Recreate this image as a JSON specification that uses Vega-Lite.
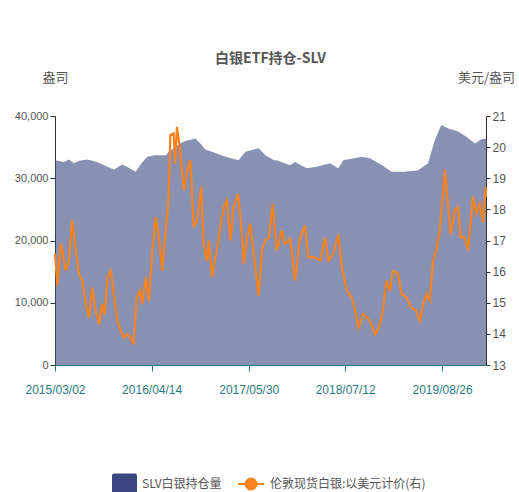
{
  "$schema": "https://vega.github.io/schema/vega-lite/v6.json",
  "width": 431,
  "height": 249,
  "autosize": {"type": "none"},
  "padding": {"left": 55, "top": 116, "right": 33, "bottom": 127},
  "background": "white",
  "config": {"view": {"stroke": null}},
  "title": {
    "text": "白银ETF持仓-SLV",
    "font": "Noto Sans CJK SC",
    "fontSize": 14,
    "fontWeight": "bold",
    "color": "#555555",
    "anchor": "middle",
    "frame": "group",
    "offset": 5
  },
  "datasets": {
    "holdings": [
      {"date": "2015-03-02", "holdings": 32900},
      {"date": "2015-04-09", "holdings": 32600},
      {"date": "2015-04-30", "holdings": 33000},
      {"date": "2015-05-21", "holdings": 32400},
      {"date": "2015-06-12", "holdings": 32800},
      {"date": "2015-07-17", "holdings": 33000},
      {"date": "2015-08-28", "holdings": 32600},
      {"date": "2015-10-10", "holdings": 31850},
      {"date": "2015-11-07", "holdings": 31400},
      {"date": "2015-12-12", "holdings": 32200},
      {"date": "2016-01-02", "holdings": 31800},
      {"date": "2016-02-06", "holdings": 31050},
      {"date": "2016-03-06", "holdings": 32600},
      {"date": "2016-03-27", "holdings": 33450},
      {"date": "2016-04-24", "holdings": 33700},
      {"date": "2016-06-14", "holdings": 33700},
      {"date": "2016-06-25", "holdings": 34250},
      {"date": "2016-08-13", "holdings": 35600},
      {"date": "2016-09-04", "holdings": 36000},
      {"date": "2016-10-16", "holdings": 36400},
      {"date": "2016-11-06", "holdings": 35600},
      {"date": "2016-11-27", "holdings": 34600},
      {"date": "2017-01-09", "holdings": 34050},
      {"date": "2017-02-20", "holdings": 33450},
      {"date": "2017-04-17", "holdings": 32900},
      {"date": "2017-05-16", "holdings": 34250},
      {"date": "2017-07-11", "holdings": 34800},
      {"date": "2017-08-08", "holdings": 33700},
      {"date": "2017-09-14", "holdings": 32900},
      {"date": "2017-09-25", "holdings": 32900},
      {"date": "2017-11-21", "holdings": 32100},
      {"date": "2017-12-12", "holdings": 32600},
      {"date": "2018-01-30", "holdings": 31600},
      {"date": "2018-03-14", "holdings": 31850},
      {"date": "2018-05-09", "holdings": 32400},
      {"date": "2018-06-13", "holdings": 31600},
      {"date": "2018-07-04", "holdings": 32900},
      {"date": "2018-09-20", "holdings": 33450},
      {"date": "2018-10-25", "holdings": 33200},
      {"date": "2018-12-15", "holdings": 32100},
      {"date": "2019-01-24", "holdings": 31050},
      {"date": "2019-03-21", "holdings": 31050},
      {"date": "2019-05-17", "holdings": 31300},
      {"date": "2019-06-28", "holdings": 32400},
      {"date": "2019-07-26", "holdings": 36100},
      {"date": "2019-08-23", "holdings": 38550},
      {"date": "2019-09-21", "holdings": 38000},
      {"date": "2019-11-02", "holdings": 37500},
      {"date": "2019-12-07", "holdings": 36650},
      {"date": "2020-01-12", "holdings": 35600},
      {"date": "2020-02-09", "holdings": 36250},
      {"date": "2020-02-28", "holdings": 36400}
    ],
    "price": [
      {"date": "2015-03-02", "price": 16.57},
      {"date": "2015-03-12", "price": 15.55},
      {"date": "2015-03-26", "price": 16.9},
      {"date": "2015-04-02", "price": 16.68},
      {"date": "2015-04-16", "price": 16.03},
      {"date": "2015-04-30", "price": 16.35},
      {"date": "2015-05-14", "price": 17.65},
      {"date": "2015-05-29", "price": 16.68},
      {"date": "2015-06-12", "price": 15.93},
      {"date": "2015-06-26", "price": 15.71},
      {"date": "2015-07-10", "price": 14.96},
      {"date": "2015-07-24", "price": 14.53},
      {"date": "2015-08-07", "price": 15.49},
      {"date": "2015-08-21", "price": 14.74},
      {"date": "2015-09-04", "price": 14.31},
      {"date": "2015-09-18", "price": 14.96},
      {"date": "2015-09-28", "price": 14.6},
      {"date": "2015-10-10", "price": 15.82},
      {"date": "2015-10-24", "price": 16.03},
      {"date": "2015-11-07", "price": 15.17},
      {"date": "2015-11-21", "price": 14.42},
      {"date": "2015-12-05", "price": 14.1},
      {"date": "2015-12-19", "price": 13.88},
      {"date": "2016-01-02", "price": 13.99},
      {"date": "2016-01-16", "price": 13.88},
      {"date": "2016-01-28", "price": 13.67},
      {"date": "2016-02-11", "price": 15.17},
      {"date": "2016-02-25", "price": 15.39},
      {"date": "2016-03-06", "price": 14.96},
      {"date": "2016-03-20", "price": 15.82},
      {"date": "2016-04-03", "price": 15.06},
      {"date": "2016-04-17", "price": 16.68},
      {"date": "2016-05-01", "price": 17.75},
      {"date": "2016-05-15", "price": 17.1},
      {"date": "2016-05-29", "price": 16.03},
      {"date": "2016-06-11", "price": 17.2},
      {"date": "2016-06-25", "price": 18.4},
      {"date": "2016-07-02", "price": 20.39},
      {"date": "2016-07-16", "price": 20.44},
      {"date": "2016-07-23", "price": 19.47},
      {"date": "2016-07-30", "price": 20.65},
      {"date": "2016-08-13", "price": 19.9},
      {"date": "2016-08-28", "price": 18.61},
      {"date": "2016-09-11", "price": 19.26},
      {"date": "2016-09-25", "price": 19.58},
      {"date": "2016-10-09", "price": 17.43},
      {"date": "2016-10-23", "price": 17.65},
      {"date": "2016-11-10", "price": 18.72},
      {"date": "2016-11-20", "price": 16.89},
      {"date": "2016-12-04", "price": 16.35},
      {"date": "2016-12-12", "price": 17.0},
      {"date": "2016-12-26", "price": 15.82},
      {"date": "2017-01-09", "price": 16.46},
      {"date": "2017-01-23", "price": 17.1},
      {"date": "2017-02-13", "price": 18.07},
      {"date": "2017-02-27", "price": 18.29},
      {"date": "2017-03-13", "price": 17.0},
      {"date": "2017-03-27", "price": 18.07},
      {"date": "2017-04-15", "price": 18.5},
      {"date": "2017-05-02", "price": 17.1},
      {"date": "2017-05-09", "price": 16.25},
      {"date": "2017-05-23", "price": 17.1},
      {"date": "2017-06-06", "price": 17.54},
      {"date": "2017-06-20", "price": 16.57},
      {"date": "2017-07-11", "price": 15.23},
      {"date": "2017-07-25", "price": 16.68},
      {"date": "2017-08-08", "price": 17.0},
      {"date": "2017-08-23", "price": 17.1},
      {"date": "2017-09-08", "price": 18.18},
      {"date": "2017-09-25", "price": 16.68},
      {"date": "2017-10-17", "price": 17.32},
      {"date": "2017-10-31", "price": 16.89},
      {"date": "2017-11-21", "price": 17.05},
      {"date": "2017-12-12", "price": 15.71},
      {"date": "2018-01-02", "price": 17.1},
      {"date": "2018-01-23", "price": 17.48},
      {"date": "2018-02-06", "price": 16.46},
      {"date": "2018-03-07", "price": 16.46},
      {"date": "2018-03-28", "price": 16.35},
      {"date": "2018-04-18", "price": 17.1},
      {"date": "2018-05-02", "price": 16.35},
      {"date": "2018-05-23", "price": 16.57},
      {"date": "2018-06-13", "price": 17.2},
      {"date": "2018-06-28", "price": 16.14},
      {"date": "2018-07-19", "price": 15.39},
      {"date": "2018-08-09", "price": 15.17},
      {"date": "2018-08-23", "price": 14.74},
      {"date": "2018-09-06", "price": 14.2},
      {"date": "2018-09-27", "price": 14.64},
      {"date": "2018-10-25", "price": 14.42},
      {"date": "2018-11-16", "price": 13.99},
      {"date": "2018-12-02", "price": 14.2},
      {"date": "2018-12-19", "price": 14.74},
      {"date": "2019-01-03", "price": 15.71},
      {"date": "2019-01-17", "price": 15.39},
      {"date": "2019-01-31", "price": 16.03},
      {"date": "2019-02-21", "price": 15.93},
      {"date": "2019-03-07", "price": 15.28},
      {"date": "2019-03-28", "price": 15.17},
      {"date": "2019-04-18", "price": 14.85},
      {"date": "2019-05-09", "price": 14.74},
      {"date": "2019-05-24", "price": 14.42},
      {"date": "2019-06-07", "price": 14.96},
      {"date": "2019-06-21", "price": 15.28},
      {"date": "2019-07-05", "price": 15.06},
      {"date": "2019-07-19", "price": 16.35},
      {"date": "2019-08-02", "price": 16.68},
      {"date": "2019-08-16", "price": 17.32},
      {"date": "2019-08-30", "price": 18.5},
      {"date": "2019-09-07", "price": 19.26},
      {"date": "2019-09-21", "price": 18.07},
      {"date": "2019-10-02", "price": 17.2},
      {"date": "2019-10-19", "price": 17.97},
      {"date": "2019-11-02", "price": 18.07},
      {"date": "2019-11-13", "price": 17.1},
      {"date": "2019-11-30", "price": 17.1},
      {"date": "2019-12-14", "price": 16.68},
      {"date": "2020-01-04", "price": 18.4},
      {"date": "2020-01-18", "price": 17.86},
      {"date": "2020-02-02", "price": 18.18},
      {"date": "2020-02-16", "price": 17.59},
      {"date": "2020-02-26", "price": 18.72},
      {"date": "2020-02-28", "price": 18.4}
    ]
  },
  "layer": [
    {
      "data": {"name": "holdings"},
      "mark": {"type": "area", "fillOpacity": 0.6, "interpolate": "linear"},
      "encoding": {
        "x": {
          "field": "date",
          "type": "temporal",
          "scale": {
            "type": "utc",
            "domain": [
              {"year": 2015, "month": 3, "date": 2, "utc": true},
              {"year": 2020, "month": 2, "date": 28, "utc": true}
            ]
          },
          "axis": {
            "values": [
              {"year": 2015, "month": 3, "date": 2, "utc": true},
              {"year": 2016, "month": 4, "date": 14, "utc": true},
              {"year": 2017, "month": 5, "date": 30, "utc": true},
              {"year": 2018, "month": 7, "date": 12, "utc": true},
              {"year": 2019, "month": 8, "date": 26, "utc": true}
            ],
            "labelExpr": "utcFormat(datum.value, '%Y/%m/%d')",
            "labelColor": "#2c7a83",
            "labelFont": "Liberation Sans",
            "labelFontSize": 12,
            "labelFlush": false,
            "labelOverlap": false,
            "labelPadding": 13,
            "tickColor": "#2c7a83",
            "tickSize": 6,
            "domainColor": "#2c7a83",
            "grid": false,
            "title": null
          }
        },
        "y": {
          "field": "holdings",
          "type": "quantitative",
          "scale": {"domain": [0, 40000]},
          "axis": {
            "values": [0, 10000, 20000, 30000, 40000],
            "labelExpr": "format(datum.value, ',')",
            "labelColor": "#555555",
            "labelFont": "Liberation Sans",
            "labelFontSize": 11,
            "labelPadding": 2,
            "tickSize": 5,
            "tickColor": "#333333",
            "domainColor": "#333333",
            "grid": false,
            "title": "盎司",
            "titleAngle": 0,
            "titleX": 0,
            "titleY": -39,
            "titleAlign": "center",
            "titleBaseline": "middle",
            "titleFont": "Noto Sans CJK SC",
            "titleFontSize": 13,
            "titleFontWeight": "normal",
            "titleColor": "#555555"
          }
        },
        "fill": {
          "datum": "SLV白银持仓量",
          "type": "nominal",
          "scale": {"range": ["#3a4780"]},
          "legend": {
            "orient": "none",
            "legendX": 57,
            "legendY": 355,
            "title": null,
            "padding": 0,
            "symbolType": "M-0.85,-0.8H0.85Q1,-0.8 1,-0.65V0.65Q1,0.8 0.85,0.8H-0.85Q-1,0.8 -1,0.65V-0.65Q-1,-0.8 -0.85,-0.8Z",
            "symbolSize": 625,
            "symbolOpacity": 1,
            "symbolStrokeWidth": 0,
            "labelFont": "Noto Sans CJK SC",
            "labelFontSize": 12,
            "labelColor": "#555555",
            "labelOffset": 5
          }
        }
      }
    },
    {
      "data": {"name": "price"},
      "mark": {"type": "line", "strokeWidth": 2.2, "interpolate": "linear"},
      "encoding": {
        "x": {"field": "date", "type": "temporal"},
        "y": {
          "field": "price",
          "type": "quantitative",
          "scale": {"domain": [13, 21], "zero": false},
          "axis": {
            "orient": "right",
            "values": [13, 14, 15, 16, 17, 18, 19, 20, 21],
            "labelColor": "#555555",
            "labelFont": "Liberation Sans",
            "labelFontSize": 12,
            "labelPadding": 2,
            "tickSize": 4,
            "tickColor": "#333333",
            "domainColor": "#333333",
            "grid": false,
            "title": "美元/盎司",
            "titleAngle": 0,
            "titleX": 0,
            "titleY": -39,
            "titleAlign": "center",
            "titleBaseline": "middle",
            "titleFont": "Noto Sans CJK SC",
            "titleFontSize": 13,
            "titleFontWeight": "normal",
            "titleColor": "#555555"
          }
        },
        "stroke": {
          "datum": "伦敦现货白银:以美元计价(右)",
          "type": "nominal",
          "scale": {"range": ["#f7821e"]},
          "legend": {
            "orient": "none",
            "legendX": 182,
            "legendY": 354,
            "title": null,
            "padding": 0,
            "symbolType": "M-1,0H-0.42M0.42,0H1M-0.42,0A0.42,0.42 0 1,1 0.42,0A0.42,0.42 0 1,1 -0.42,0Z",
            "symbolSize": 676,
            "symbolStrokeWidth": 2,
            "labelFont": "Noto Sans CJK SC",
            "labelFontSize": 12,
            "labelColor": "#555555",
            "labelOffset": 5,
            "encode": {"symbols": {"update": {"fill": {"value": "#f7821e"}, "stroke": {"value": "#f7821e"}}}}
          }
        }
      }
    }
  ],
  "resolve": {"scale": {"y": "independent", "fill": "independent", "stroke": "independent"}}
}
